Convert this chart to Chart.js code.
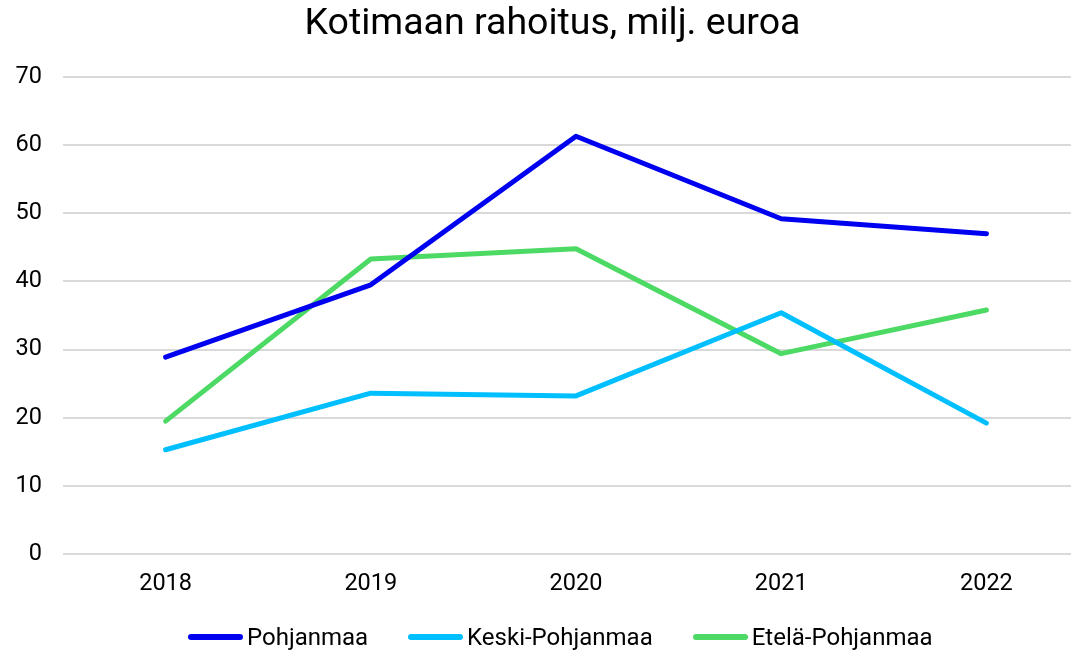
<!DOCTYPE html>
<html>
<head>
<meta charset="utf-8">
<script src="https://cdn.jsdelivr.net/npm/chart.js@4"></script>
<style>
  html, body { margin: 0; background: #fff; overflow: hidden; }
  #wrap { position: relative; width: 1089px; height: 650px; }
  #selite {
    position: absolute; top: 623px; left: 188px;
    display: flex; align-items: center;
    font-family: Roboto, sans-serif; font-size: 24px; color: #000;
  }
  #selite .kohta { display: flex; align-items: center; margin-right: 40px; }
  #selite .viiva { width: 55px; height: 6px; border-radius: 3px; margin-right: 4px; }
</style>
</head>
<body>
<div id="wrap">
  <canvas id="kuvaaja"></canvas>
  <div id="selite"></div>
</div>
<script>
// Data
const vuodet = ["2018", "2019", "2020", "2021", "2022"];
const pohjanmaa = [28.9, 39.5, 61.3, 49.2, 47.0];
const keskiPohjanmaa = [15.3, 23.6, 23.2, 35.4, 19.2];
const etelaPohjanmaa = [19.5, 43.3, 44.8, 29.4, 35.8];

const viiva = (nimi, arvot, vari) => ({
  label: nimi,
  data: arvot,
  borderColor: vari,
  backgroundColor: vari,
  borderWidth: 5,
  pointRadius: 0,
  tension: 0,
  borderCapStyle: 'round',
  borderJoinStyle: 'round'
});

const kaavio = new Chart(document.getElementById("kuvaaja"), {
  type: 'line',
  data: {
    labels: vuodet,
    datasets: [
      viiva("Pohjanmaa", pohjanmaa, "#0000f0"),
      viiva("Keski-Pohjanmaa", keskiPohjanmaa, "#00bfff"),
      viiva("Etelä-Pohjanmaa", etelaPohjanmaa, "#4cd964")
    ]
  },
  options: {
    responsive: true,
    maintainAspectRatio: false,
    animation: false,
    layout: { padding: { left: 16, right: 0, top: 0, bottom: 52 } },
    plugins: {
      title: {
        display: true,
        text: 'Kotimaan rahoitus, milj. euroa',
        color: '#000',
        font: { family: 'Roboto', size: 37.5, weight: 'normal' },
        padding: { top: 2, bottom: 30 }
      },
      legend: { display: false },
      tooltip: { enabled: false }
    },
    scales: {
      x: {
        offset: true,
        grid: { display: false },
        border: { display: false },
        ticks: { color: '#000', font: { family: 'Roboto', size: 23.5 }, padding: 8, maxRotation: 0 },
        afterFit: (s) => { s.height = 44; }
      },
      y: {
        min: 0,
        max: 70,
        ticks: { stepSize: 10, color: '#000', font: { family: 'Roboto', size: 23.5 }, padding: 21 },
        grid: { color: '#d9d9d9', lineWidth: 2, drawTicks: false },
        border: { display: false },
        afterFit: (s) => { s.width = 47; }
      }
    }
  }
});

// Selite (legend) HTML:nä
const selite = document.getElementById("selite");
kaavio.data.datasets.forEach(ds => {
  const kohta = document.createElement("div");
  kohta.className = "kohta";
  const v = document.createElement("span");
  v.className = "viiva";
  v.style.background = ds.borderColor;
  const t = document.createElement("span");
  t.textContent = ds.label;
  kohta.appendChild(v);
  kohta.appendChild(t);
  selite.appendChild(kohta);
});
</script>
</body>
</html>
